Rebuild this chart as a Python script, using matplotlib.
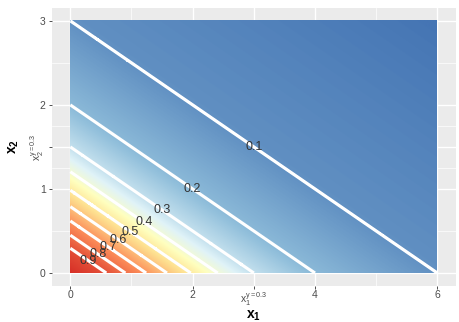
import numpy as np
import matplotlib
matplotlib.use("Agg")
import matplotlib.pyplot as plt
from matplotlib.colors import LinearSegmentedColormap

# ---- data ----
levels = [0.9, 0.8, 0.7, 0.6, 0.5, 0.4, 0.3, 0.2, 0.1]
x1_intercepts = [0.59, 0.90, 1.24, 1.58, 1.97, 2.41, 3.0, 4.0, 6.0]
x2_per_x1 = 0.5          # contour lines: x2 intercept = 0.5 * x1 intercept
origin_value = 1.0
corner_value = 0.03
x1_breaks = [0, 2, 3, 4, 6]
x1_labels = ["0", "2", r"$\mathregular{x}_1^{\mathregular{y=0.3}}$", "4", "6"]
x2_breaks = [0, 1, 1.5, 2, 3]
x2_labels = ["0", "1", r"$\mathregular{x}_2^{\mathregular{y=0.3}}$", "2", "3"]
x1_minor = [1, 5]
x2_minor = [0.5, 1.25, 1.75, 2.5]
x1_lim = (0, 6)
x2_lim = (0, 3)

palette = ["#4575B4", "#91BFDB", "#E0F3F8", "#FFFFBF", "#FEE090", "#FC8D59", "#D73027"]
palette_pos = [0.0, 0.19, 0.33, 0.42, 0.52, 0.71, 1.0]

plt.rcParams['font.family'] = ['Liberation Sans', 'DejaVu Sans']
plt.rcParams['mathtext.fontset'] = 'custom'
plt.rcParams['mathtext.rm'] = 'Liberation Sans'
plt.rcParams['mathtext.it'] = 'Liberation Sans:italic'
plt.rcParams['mathtext.bf'] = 'Liberation Sans:bold'

# field
gx = np.linspace(x1_lim[0], x1_lim[1], 601)
gy = np.linspace(x2_lim[0], x2_lim[1], 301)
X, Y = np.meshgrid(gx, gy)
S = X + Y / x2_per_x1
s_max = x1_lim[1] + x2_lim[1] / x2_per_x1
sp = [0.0] + x1_intercepts + [s_max]
fp = [origin_value] + levels + [corner_value]
Z = np.interp(S, sp, fp)

zmin, zmax = Z.min(), Z.max()
cmap = LinearSegmentedColormap.from_list("rdylbu", list(zip(palette_pos, palette)))

W, H = 459, 322
fig = plt.figure(figsize=(W / 100, H / 100), dpi=100)
ex = 0.05 * (x1_lim[1] - x1_lim[0])
ey = 0.05 * (x2_lim[1] - x2_lim[0])
px0, px1 = 52, 455.5
py0, py1 = 8.4, 285.6
ax = fig.add_axes([px0 / W, 1 - py1 / H, (px1 - px0) / W, (py1 - py0) / H])
ax.set_facecolor("#EBEBEB")
ax.set_xlim(x1_lim[0] - ex, x1_lim[1] + ex)
ax.set_ylim(x2_lim[0] - ey, x2_lim[1] + ey)

for v in x1_minor:
    ax.axvline(v, color="white", lw=0.5, zorder=0.5)
for v in x2_minor:
    ax.axhline(v, color="white", lw=0.5, zorder=0.5)
for v in x1_breaks:
    ax.axvline(v, color="white", lw=1.0, zorder=0.6)
for v in x2_breaks:
    ax.axhline(v, color="white", lw=1.0, zorder=0.6)

ax.imshow(Z, origin="lower", extent=[x1_lim[0], x1_lim[1], x2_lim[0], x2_lim[1]],
          cmap=cmap, vmin=zmin, vmax=zmax, aspect="auto", interpolation="bilinear", zorder=1)
lv = sorted(levels)
ax.contour(X, Y, Z, levels=lv, colors="white", linewidths=2.2, zorder=2)

for lev, s in zip(levels, x1_intercepts):
    ax.text(s / 2, s * x2_per_x1 / 2, f"{lev:g}", ha="center", va="center",
            fontsize=9, color="#333333", zorder=3)

for sp_ in ax.spines.values():
    sp_.set_visible(False)
ax.set_xticks(x1_breaks)
ax.set_xticklabels(x1_labels)
ax.set_yticks(x2_breaks)
ax.set_yticklabels(x2_labels)
ax.tick_params(axis="both", length=2.5, width=0.6, color="#333333", labelsize=7.5,
               labelcolor="#4D4D4D", pad=2)
ax.tick_params(axis="x", pad=1)
for t, lab in zip(ax.get_yticklabels(), x2_labels):
    if "y=" in lab:
        t.set_rotation(90)
        t.set_va("center")

ax.set_xlabel(r"$\mathbf{x_1}$", fontsize=10)
ax.set_ylabel(r"$\mathbf{x_2}$", fontsize=10)
ax.xaxis.set_label_coords(0.5, -0.108)
ax.xaxis.label.set_va("center")
ax.yaxis.set_label_coords(-0.095, 0.5)
ax.yaxis.label.set_va("center")

fig.savefig("out.png", dpi=100)
